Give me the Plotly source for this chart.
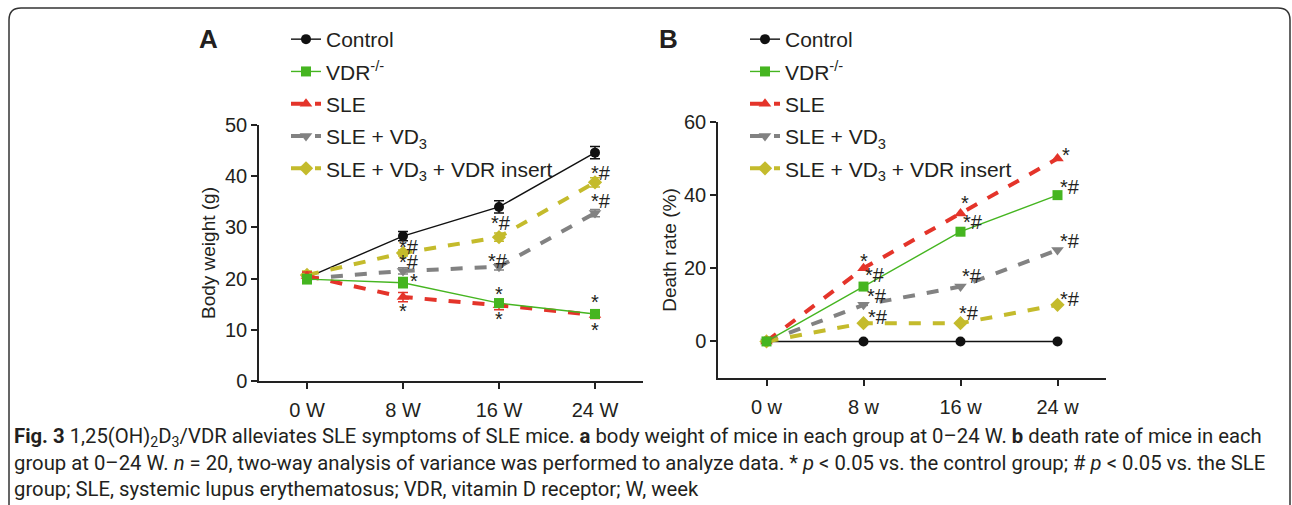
import plotly.graph_objects as go

# ---------------- data ----------------
weeks = [0, 8, 16, 24]
week_labels_a = ["0 W", "8 W", "16 W", "24 W"]
week_labels_b = ["0 w", "8 w", "16 w", "24 w"]

series_names = ["Control", "VDR<sup>-/-</sup>", "SLE", "SLE + VD<sub>3</sub>", "SLE + VD<sub>3</sub> + VDR insert"]

# Panel A: body weight (g)
bw_control = [20.2, 28.3, 34.0, 44.6]
bw_vdr = [19.9, 19.2, 15.2, 13.1]
bw_sle = [20.5, 16.4, 14.8, 12.9]
bw_sle_vd3 = [20.0, 21.5, 22.3, 32.8]
bw_sle_vd3_vdr = [20.7, 25.0, 28.1, 38.8]

bw_control_err = [0.9, 0.9, 1.2, 1.2]
bw_vdr_err = [0.9, 1.0, 0.8, 0.8]
bw_sle_err = [0.8, 0.9, 0.9, 0.7]
bw_sle_vd3_err = [0.7, 0.6, 0.6, 0.7]
bw_sle_vd3_vdr_err = [0.8, 0.6, 0.8, 0.9]

# Panel B: death rate (%)
dr_control = [0, 0, 0, 0]
dr_vdr = [0, 15, 30, 40]
dr_sle = [0, 20, 35, 50]
dr_sle_vd3 = [0, 10, 15, 25]
dr_sle_vd3_vdr = [0, 5, 5, 10]

# significance labels: (series index, week index, label)
sig_a = [
    (4, 1, "*#"), (3, 1, "*#"), (1, 1, "*"), (2, 1, "*"),
    (4, 2, "*#"), (3, 2, "*#"), (1, 2, "*"), (2, 2, "*"),
    (4, 3, "*#"), (3, 3, "*#"), (1, 3, "*"), (2, 3, "*"),
]
sig_b = [
    (2, 1, "*"), (1, 1, "*#"), (3, 1, "*#"), (4, 1, "*#"),
    (2, 2, "*"), (1, 2, "*#"), (3, 2, "*#"), (4, 2, "*#"),
    (2, 3, "*"), (1, 3, "*#"), (3, 3, "*#"), (4, 3, "*#"),
]
# pixel offsets for the labels (style only)
sig_a_offsets = [
    (6, 6), (6, 9), (11, 2), (0, -14),
    (2, 14), (-1, 6), (0, 9), (0, -14),
    (6, 9), (6, 12), (0, 12), (0, -15),
]
sig_b_offsets = [
    (0, 7), (11, 12), (13, 9), (14, 6),
    (4, 10), (12, 10), (11, 11), (8, 10),
    (8, 4), (12, 8), (12, 9), (12, 6),
]

caption_lines = [
    "<b>Fig. 3</b> 1,25(OH)<sub>2</sub>D<sub>3</sub>/VDR alleviates SLE symptoms of SLE mice. <b>a</b> body weight of mice in each group at 0–24 W. <b>b</b> death rate of mice in each",
    "group at 0–24 W. <i>n</i> = 20, two-way analysis of variance was performed to analyze data. * <i>p</i> &lt; 0.05 vs. the control group; # <i>p</i> &lt; 0.05 vs. the SLE",
    "group; SLE, systemic lupus erythematosus; VDR, vitamin D receptor; W, week",
]

# ---------------- styles ----------------
colors = ["#111111", "#45b520", "#e4342a", "#828282", "#c4bb2c"]
symbols = ["circle", "square", "triangle-up", "triangle-down", "diamond"]
widths = [1.4, 1.4, 4, 4, 4]
dashes = ["solid", "solid", "dash", "dash", "dash"]
msizes = [10, 10, 11, 11, 11]

W, H = 1292, 505
FONT = "Liberation Sans, Arial, sans-serif"
TXT = "#231f20"

fig = go.Figure()

bw_data = [bw_control, bw_vdr, bw_sle, bw_sle_vd3, bw_sle_vd3_vdr]
bw_err = [bw_control_err, bw_vdr_err, bw_sle_err, bw_sle_vd3_err, bw_sle_vd3_vdr_err]
dr_data = [dr_control, dr_vdr, dr_sle, dr_sle_vd3, dr_sle_vd3_vdr]

draw_order = [0, 3, 4, 2, 1]

for i in draw_order:
    fig.add_trace(go.Scatter(
        x=weeks, y=bw_data[i], name=series_names[i], mode="lines+markers",
        line=dict(color=colors[i], width=widths[i], dash=dashes[i]),
        marker=dict(symbol=symbols[i], size=msizes[i], color=colors[i]),
        error_y=dict(type="data", array=bw_err[i], color=colors[i], thickness=1.5, width=5),
        xaxis="x", yaxis="y", legend="legend", legendgroup="a%d" % i,
        legendrank=i + 1,
    ))
for i in draw_order:
    fig.add_trace(go.Scatter(
        x=weeks, y=dr_data[i], name=series_names[i], mode="lines+markers",
        line=dict(color=colors[i], width=widths[i], dash=dashes[i]),
        marker=dict(symbol=symbols[i], size=msizes[i], color=colors[i]),
        xaxis="x2", yaxis="y2", legend="legend2", legendgroup="b%d" % i,
        legendrank=i + 1,
    ))


def px_x(p):
    return p / W


def px_y(p):
    return 1 - p / H


axis_common = dict(
    showline=True, linecolor="#222222", linewidth=1.5, showgrid=False, zeroline=False,
    ticks="outside", ticklen=6, tickwidth=1.5, tickcolor="#222222",
    tickfont=dict(family=FONT, size=20, color=TXT), automargin=False,
)

legend_common = dict(xanchor="left", yanchor="top", font=dict(family=FONT, size=21, color=TXT),
                     tracegroupgap=2, bgcolor="rgba(0,0,0,0)", traceorder="grouped")

fig.update_layout(
    width=W, height=H, margin=dict(l=0, r=0, t=0, b=0),
    paper_bgcolor="white", plot_bgcolor="white",
    font=dict(family=FONT, color=TXT),
    xaxis=dict(domain=[px_x(259), px_x(643)], range=[-4, 28], tickvals=weeks,
               ticktext=week_labels_a, anchor="y", ticklabelstandoff=4, **axis_common),
    yaxis=dict(domain=[px_y(381), px_y(125)], range=[0, 50], tickvals=[0, 10, 20, 30, 40, 50],
               anchor="x", title=dict(text="Body weight (g)", font=dict(family=FONT, size=19), standoff=4),
               **axis_common),
    xaxis2=dict(domain=[px_x(718), px_x(1106)], range=[-4, 28], tickvals=weeks,
                ticktext=week_labels_b, anchor="y2", ticklabelstandoff=4, **axis_common),
    yaxis2=dict(domain=[px_y(378), px_y(122)], range=[-10, 60], tickvals=[0, 20, 40, 60],
                anchor="x2", title=dict(text="Death rate (%)", font=dict(family=FONT, size=19), standoff=2),
                **axis_common),
    legend=dict(x=px_x(286), y=px_y(19), **legend_common),
    legend2=dict(x=px_x(745), y=px_y(19), **legend_common),
    showlegend=True,
)

annots = []
for (s, w, lab), (dx, dy) in zip(sig_a, sig_a_offsets):
    annots.append(dict(x=weeks[w], y=bw_data[s][w], xref="x", yref="y", text=lab, showarrow=False,
                       xanchor="center", yanchor="middle",
                       xshift=dx, yshift=dy, font=dict(family=FONT, size=20, color=TXT)))
for (s, w, lab), (dx, dy) in zip(sig_b, sig_b_offsets):
    annots.append(dict(x=weeks[w], y=dr_data[s][w], xref="x2", yref="y2", text=lab, showarrow=False,
                       xanchor="center", yanchor="middle",
                       xshift=dx, yshift=dy, font=dict(family=FONT, size=20, color=TXT)))

annots.append(dict(x=px_x(208), y=px_y(39), xref="paper", yref="paper", text="<b>A</b>",
                   xanchor="center", yanchor="middle",
                   showarrow=False, font=dict(family=FONT, size=26, color=TXT)))
annots.append(dict(x=px_x(668), y=px_y(39), xref="paper", yref="paper", text="<b>B</b>",
                   xanchor="center", yanchor="middle",
                   showarrow=False, font=dict(family=FONT, size=26, color=TXT)))

cap_y = [437, 463, 489]
for t, yy in zip(caption_lines, cap_y):
    annots.append(dict(x=px_x(12), y=px_y(yy), xref="paper", yref="paper", text=t, showarrow=False,
                       xanchor="left", yanchor="middle",
                       font=dict(family="Roboto, sans-serif", size=20.3, color=TXT)))

fig.update_layout(annotations=annots)

# rounded frame around the figure
x0, x1, y0, r = px_x(9), px_x(1290), px_y(8), 12
ybot = px_y(520)
rx, ry = r / W, r / H
path = (f"M {x0},{ybot} L {x0},{y0 - ry} Q {x0},{y0} {x0 + rx},{y0} "
        f"L {x1 - rx},{y0} Q {x1},{y0} {x1},{y0 - ry} L {x1},{ybot}")
fig.add_shape(type="path", path=path, xref="paper", yref="paper",
              line=dict(color="#333333", width=1.5))

fig.write_html("out.html", config={"displayModeBar": False},
               post_script="document.body.style.margin='0';document.body.style.overflow='hidden';")
